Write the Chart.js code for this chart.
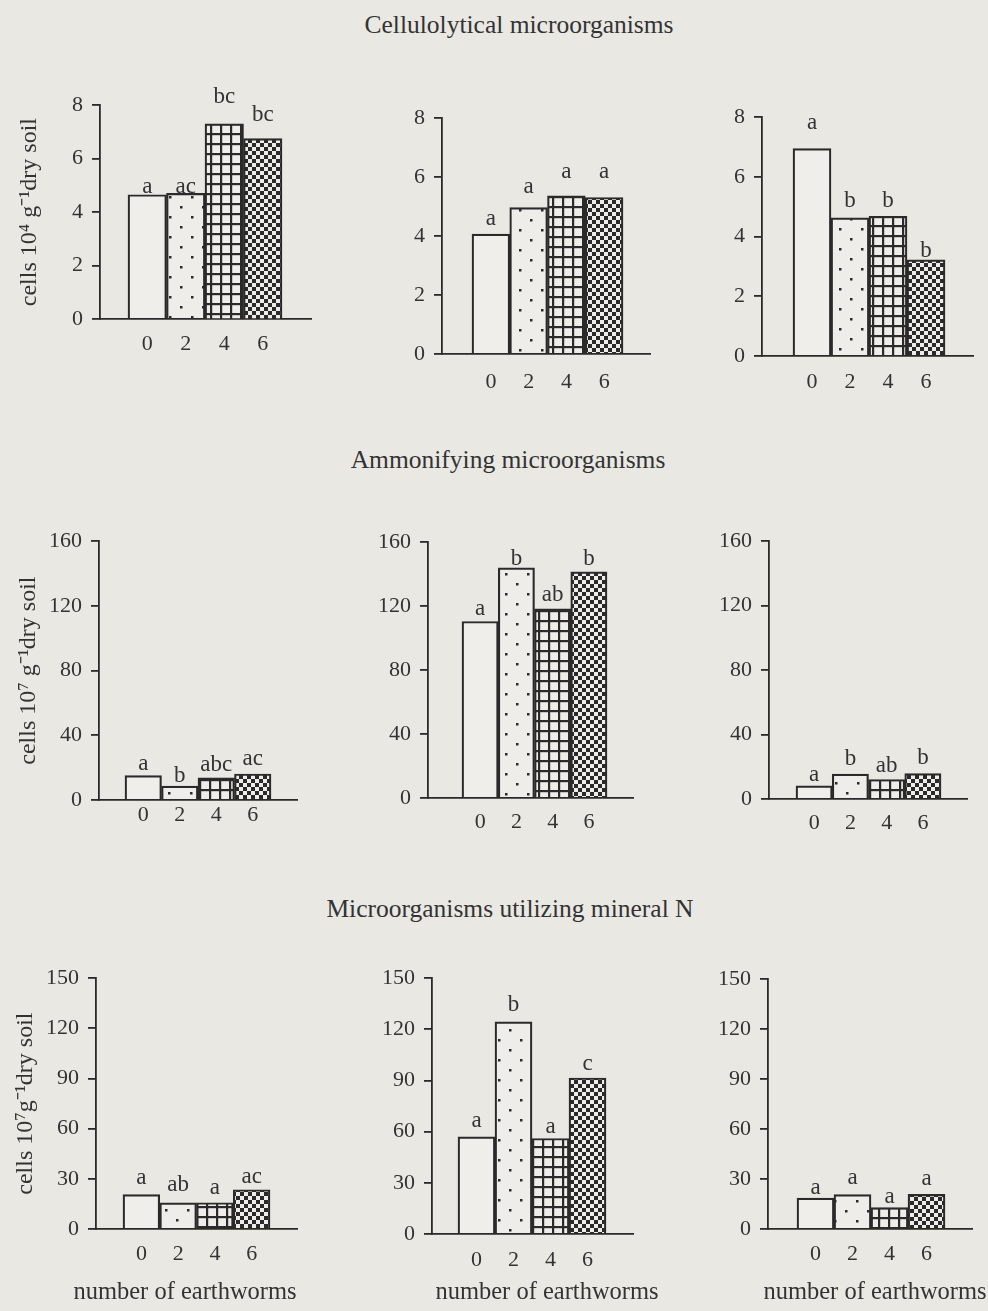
<!DOCTYPE html>
<html><head><meta charset="utf-8">
<script src="https://cdn.jsdelivr.net/npm/chart.js@4.4.1/dist/chart.umd.min.js"></script>
<style>
html,body{margin:0;padding:0;}
body{width:988px;height:1311px;background:#e9e8e3;position:relative;overflow:hidden;font-family:"Liberation Serif","Times New Roman",serif;color:#333;}
canvas{position:absolute;}
.sec{position:absolute;width:600px;text-align:center;font-size:25.5px;line-height:25.5px;white-space:nowrap;}
</style></head><body>
<div class="sec" style="left:219px;top:12px">Cellulolytical microorganisms</div>
<div class="sec" style="left:208px;top:447px">Ammonifying microorganisms</div>
<div class="sec" style="left:210px;top:896px">Microorganisms utilizing mineral N</div>
<script>
// ---- data ----
const earthworms = [0, 2, 4, 6];
const celluloTicks = [0, 2, 4, 6, 8];
const ammonTicks = [0, 40, 80, 120, 160];
const mineralTicks = [0, 30, 60, 90, 120, 150];

const cellulo1 = [4.65, 4.70, 7.30, 6.75];
const cellulo2 = [4.07, 4.97, 5.37, 5.31];
const cellulo3 = [6.95, 4.63, 4.68, 3.22];
const ammon1 = [15.1, 8.6, 13.7, 16.1];
const ammon2 = [110.4, 144.0, 118.3, 141.4];
const ammon3 = [8.2, 15.4, 12.1, 15.8];
const mineral1 = [20.6, 15.6, 15.7, 23.5];
const mineral2 = [57.0, 124.4, 56.0, 91.5];
const mineral3 = [18.6, 20.6, 12.9, 20.8];

const celluloLetters1 = ['a', 'ac', 'bc', 'bc'];
const celluloLetters2 = ['a', 'a', 'a', 'a'];
const celluloLetters3 = ['a', 'b', 'b', 'b'];
const ammonLetters1 = ['a', 'b', 'abc', 'ac'];
const ammonLetters2 = ['a', 'b', 'ab', 'b'];
const ammonLetters3 = ['a', 'b', 'ab', 'b'];
const mineralLetters1 = ['a', 'ab', 'a', 'ac'];
const mineralLetters2 = ['a', 'b', 'a', 'c'];
const mineralLetters3 = ['a', 'a', 'a', 'a'];

// value level (data units) where each significance letter sits
const celluloLetterAt1 = [4.72, 4.72, 8.1, 7.4];
const celluloLetterAt2 = [4.39, 5.46, 5.98, 5.98];
const celluloLetterAt3 = [7.62, 4.98, 4.98, 3.3];
const ammonLetterAt1 = [18.4, 11.2, 18.0, 21.5];
const ammonLetterAt2 = [114.5, 146, 123.2, 146];
const ammonLetterAt3 = [11.3, 20.9, 16.8, 22];
const mineralLetterAt1 = [27.1, 22.5, 21.2, 27.5];
const mineralLetterAt2 = [63, 131, 59, 96.3];
const mineralLetterAt3 = [21.2, 27.2, 15.7, 26.2];

const yTitle1 = 'cells 10⁴ g⁻¹dry soil';
const yTitle2 = 'cells 10⁷ g⁻¹dry soil';
const yTitle3 = 'cells 10⁷g⁻¹dry soil';
const xTitle = 'number of earthworms';

// ---- layout (pixel geometry of each panel) ----
const panels = [
  {vals: cellulo1, letters: celluloLetters1, at: celluloLetterAt1, ticks: celluloTicks, yTitle: yTitle1, L:100, R:311, T:103, B:319, bl:128, br:282, xp:12, row:0, col:0},
  {vals: cellulo2, letters: celluloLetters2, at: celluloLetterAt2, ticks: celluloTicks, L:442, R:650, T:116, B:354, bl:472, br:623, xp:15, row:0, col:1},
  {vals: cellulo3, letters: celluloLetters3, at: celluloLetterAt3, ticks: celluloTicks, L:762, R:973, T:115, B:356, bl:793, br:945, xp:13, row:0, col:2},
  {vals: ammon1, letters: ammonLetters1, at: ammonLetterAt1, ticks: ammonTicks, yTitle: yTitle2, L:99, R:297, T:539, B:800, bl:125, br:271, xp:2, row:1, col:0},
  {vals: ammon2, letters: ammonLetters2, at: ammonLetterAt2, ticks: ammonTicks, L:428, R:633, T:540, B:798, bl:462, br:607, xp:11, row:1, col:1},
  {vals: ammon3, letters: ammonLetters3, at: ammonLetterAt3, ticks: ammonTicks, L:769, R:967, T:539, B:799, bl:796, br:941, xp:11, row:1, col:2},
  {vals: mineral1, letters: mineralLetters1, at: mineralLetterAt1, ticks: mineralTicks, yTitle: yTitle3, L:96, R:297, T:976, B:1229, bl:123, br:270, xp:12, row:2, col:0, tx:185},
  {vals: mineral2, letters: mineralLetters2, at: mineralLetterAt2, ticks: mineralTicks, L:432, R:633, T:976, B:1234, bl:458, br:606, xp:13, row:2, col:1, tx:547},
  {vals: mineral3, letters: mineralLetters3, at: mineralLetterAt3, ticks: mineralTicks, L:768, R:972, T:977, B:1229, bl:797, br:945, xp:12, row:2, col:2, tx:875}
];

const BG = '#e9e8e3';
const INK = '#2a2a2a';
const TXT = '#333333';
const FONT = '"Liberation Serif", "Times New Roman", serif';

function makeTile(w, h, draw) {
  const c = document.createElement('canvas');
  c.width = w; c.height = h;
  const g = c.getContext('2d');
  g.fillStyle = '#eeede9'; g.fillRect(0, 0, w, h);
  g.fillStyle = INK;
  draw(g);
  return g.createPattern(c, 'repeat');
}
const plainFill = '#efeeea';
const dotFill = makeTile(22, 20, g => { g.fillRect(4, 3, 2.5, 2.5); g.fillRect(15, 13, 2.5, 2.5); });
const gridFill = makeTile(10, 10, g => { g.fillRect(0, 0, 10, 2.2); g.fillRect(0, 0, 2.2, 10); });
const checkFill = makeTile(8, 8, g => { g.fillRect(0, 0, 4, 4); g.fillRect(4, 4, 4, 4); });
const fills = [plainFill, dotFill, gridFill, checkFill];

const letterPlugin = {
  id: 'letters',
  afterDatasetsDraw(chart, args, opts) {
    const ctx = chart.ctx;
    const meta = chart.getDatasetMeta(0);
    const ys = chart.scales.y;
    ctx.save();
    ctx.font = '23px ' + FONT;
    ctx.fillStyle = TXT;
    ctx.textAlign = 'center';
    ctx.textBaseline = 'alphabetic';
    opts.letters.forEach((t, i) => {
      ctx.fillText(t, meta.data[i].x, ys.getPixelForValue(opts.at[i]));
    });
    if (opts.xTitle) {
      ctx.font = '24.5px ' + FONT;
      ctx.textBaseline = 'middle';
      ctx.fillText(opts.xTitle, opts.tx, chart.scales.x.bottom - 16);
    }
    ctx.restore();
  }
};

Chart.defaults.font.family = FONT;
Chart.defaults.color = TXT;

panels.forEach(p => {
  const yW = p.col === 0 ? 100 : 70;
  const xH = p.row < 2 ? 45 : (1309 - p.B);
  const cl = p.L - yW;
  const ct = p.T - 20;
  const padR = p.row === 2 ? 34 : 22;
  const cw = p.R + padR - cl;
  const ch = p.B + xH - ct;
  const cv = document.createElement('canvas');
  cv.width = cw; cv.height = ch;
  cv.style.left = cl + 'px'; cv.style.top = ct + 'px';
  cv.style.width = cw + 'px'; cv.style.height = ch + 'px';
  document.body.appendChild(cv);

  const ppu = (p.br - p.bl) / 8;
  const c0 = p.bl + ppu;
  const xmin = -(c0 - p.L) / ppu;
  const xmax = (p.R - c0) / ppu;
  const ticks = p.ticks;

  new Chart(cv, {
    type: 'bar',
    data: {
      datasets: [{
        data: p.vals.map((v, i) => ({x: earthworms[i], y: v})),
        backgroundColor: fills,
        borderColor: INK,
        borderWidth: 2.2,
        barPercentage: 1,
        categoryPercentage: 1
      }]
    },
    options: {
      responsive: false,
      animation: false,
      devicePixelRatio: 1,
      layout: {padding: {top: 20, left: 0, right: padR, bottom: 0}},
      plugins: {
        legend: {display: false},
        tooltip: {enabled: false},
        letters: {letters: p.letters, at: p.at, xTitle: p.row === 2 ? xTitle : null, tx: (p.tx || 0) - cl}
      },
      scales: {
        x: {
          type: 'linear',
          offset: false,
          min: xmin,
          max: xmax,
          afterBuildTicks: s => { s.ticks = earthworms.map(v => ({value: v})); },
          afterFit: s => { s.height = xH; },
          grid: {display: false, drawTicks: false},
          border: {display: true, color: INK, width: 1.8},
          ticks: {font: {size: 22}, color: TXT, padding: p.xp, maxRotation: 0, autoSkip: false}
        },
        y: {
          min: ticks[0],
          max: ticks[ticks.length - 1],
          afterBuildTicks: s => { s.ticks = ticks.map(v => ({value: v})); },
          afterFit: s => { s.width = yW; },
          grid: {drawOnChartArea: false, drawTicks: true, tickLength: 8, color: INK, lineWidth: 1.8},
          border: {display: true, color: INK, width: 1.8},
          ticks: {font: {size: 22}, color: TXT, padding: 9},
          title: {display: !!p.yTitle, text: p.yTitle || '', font: {size: 24}, color: TXT, padding: {top: 15, bottom: 0}}
        }
      }
    },
    plugins: [letterPlugin]
  });
});
</script>
</body></html>
